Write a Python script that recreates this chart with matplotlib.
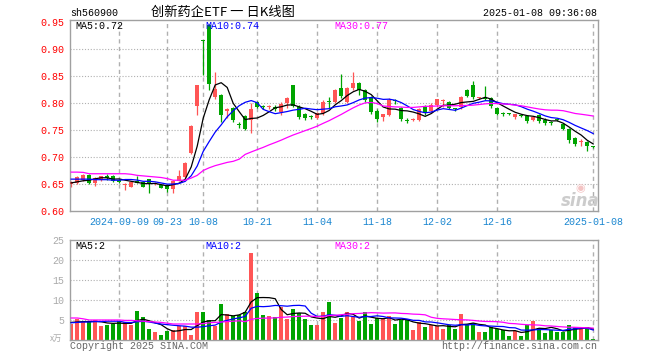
import matplotlib
matplotlib.use('Agg')
import matplotlib.pyplot as plt
import numpy as np
import pandas as pd

plt.rcParams['font.family'] = ['Liberation Mono', 'Noto Sans CJK SC', 'DejaVu Sans']

# ---------------- data ----------------
opens = [0.650, 0.652, 0.657, 0.667, 0.651, 0.657, 0.663, 0.665, 0.657, 0.648,
         0.645, 0.656, 0.654, 0.659, 0.650, 0.648, 0.648, 0.641, 0.656, 0.663,
         0.707, 0.794, 0.917, 0.945, 0.811, 0.815, 0.786, 0.791, 0.760, 0.775,
         0.768, 0.802, 0.793, 0.792, 0.793, 0.783, 0.800, 0.833, 0.793, 0.780,
         0.775, 0.772, 0.781, 0.803, 0.802, 0.828, 0.802, 0.828, 0.837, 0.824,
         0.811, 0.785, 0.774, 0.778, 0.805, 0.791, 0.768, 0.768, 0.768, 0.793,
         0.785, 0.796, 0.803, 0.802, 0.790, 0.793, 0.824, 0.833, 0.809, 0.809,
         0.809, 0.791, 0.781, 0.781, 0.774, 0.777, 0.776, 0.769, 0.778, 0.769,
         0.764, 0.769, 0.761, 0.752, 0.735, 0.727, 0.728, 0.719]
highs = [0.656, 0.664, 0.668, 0.668, 0.663, 0.665, 0.668, 0.666, 0.659, 0.651,
         0.656, 0.665, 0.655, 0.660, 0.653, 0.649, 0.650, 0.657, 0.676, 0.690,
         0.760, 0.834, 0.917, 0.946, 0.858, 0.817, 0.790, 0.793, 0.765, 0.777,
         0.800, 0.804, 0.797, 0.797, 0.797, 0.802, 0.812, 0.834, 0.796, 0.781,
         0.778, 0.784, 0.806, 0.811, 0.826, 0.854, 0.830, 0.858, 0.839, 0.826,
         0.813, 0.789, 0.780, 0.809, 0.808, 0.793, 0.772, 0.772, 0.791, 0.796,
         0.800, 0.808, 0.808, 0.803, 0.791, 0.813, 0.826, 0.841, 0.812, 0.831,
         0.811, 0.792, 0.783, 0.782, 0.780, 0.779, 0.777, 0.775, 0.780, 0.772,
         0.767, 0.771, 0.763, 0.753, 0.737, 0.733, 0.729, 0.720]
lows = [0.645, 0.650, 0.655, 0.650, 0.647, 0.655, 0.658, 0.654, 0.652, 0.638,
        0.644, 0.651, 0.644, 0.634, 0.648, 0.642, 0.635, 0.634, 0.655, 0.662,
        0.706, 0.778, 0.852, 0.824, 0.808, 0.765, 0.773, 0.765, 0.753, 0.750,
        0.745, 0.790, 0.788, 0.788, 0.785, 0.778, 0.790, 0.792, 0.770, 0.768,
        0.770, 0.770, 0.778, 0.790, 0.800, 0.810, 0.800, 0.824, 0.815, 0.802,
        0.780, 0.765, 0.767, 0.776, 0.798, 0.767, 0.763, 0.766, 0.766, 0.778,
        0.782, 0.793, 0.793, 0.789, 0.786, 0.789, 0.811, 0.808, 0.808, 0.806,
        0.791, 0.778, 0.776, 0.778, 0.770, 0.774, 0.763, 0.767, 0.763, 0.760,
        0.760, 0.767, 0.750, 0.726, 0.720, 0.721, 0.712, 0.717]
closes = [0.654, 0.663, 0.667, 0.652, 0.662, 0.664, 0.662, 0.655, 0.654, 0.650,
          0.654, 0.652, 0.645, 0.652, 0.652, 0.643, 0.641, 0.656, 0.665, 0.689,
          0.757, 0.833, 0.915, 0.836, 0.826, 0.778, 0.789, 0.768, 0.759, 0.752,
          0.789, 0.793, 0.792, 0.793, 0.789, 0.798, 0.809, 0.794, 0.774, 0.772,
          0.774, 0.781, 0.802, 0.802, 0.824, 0.813, 0.828, 0.837, 0.824, 0.806,
          0.783, 0.770, 0.780, 0.806, 0.804, 0.770, 0.767, 0.769, 0.789, 0.781,
          0.796, 0.807, 0.806, 0.791, 0.789, 0.811, 0.813, 0.811, 0.810, 0.808,
          0.794, 0.780, 0.780, 0.780, 0.780, 0.776, 0.767, 0.774, 0.767, 0.763,
          0.763, 0.768, 0.752, 0.731, 0.724, 0.728, 0.720, 0.718]
volumes = [4.1, 5.3, 4.5, 4.5, 4.9, 3.6, 3.8, 4.0, 4.8, 4.5,
           3.7, 7.3, 5.7, 2.8, 2.0, 1.3, 2.3, 2.5, 3.5, 3.5,
           1.3, 7.1, 7.1, 5.0, 3.6, 9.0, 6.5, 6.1, 6.2, 7.0,
           21.8, 11.8, 6.3, 6.0, 5.7, 8.3, 5.3, 7.8, 6.7, 5.3,
           3.8, 3.8, 7.0, 9.5, 4.3, 5.6, 7.0, 5.7, 4.8, 7.0,
           4.0, 5.6, 5.2, 6.1, 4.0, 5.1, 4.9, 2.5, 4.6, 3.3,
           3.7, 3.5, 2.8, 3.7, 2.8, 6.5, 4.0, 4.2, 2.0, 2.0,
           3.3, 2.7, 2.5, 1.0, 2.2, 1.0, 3.7, 4.8, 3.0, 1.8,
           2.5, 2.0, 2.0, 3.8, 3.2, 3.2, 3.2, 0.3]

ma5_head = [0.652, 0.654, 0.656, 0.657]
ma10_head = [0.659, 0.659, 0.659, 0.659, 0.658, 0.658, 0.658, 0.657, 0.657]
ma30_head = [0.672, 0.672, 0.6715, 0.669, 0.669, 0.669, 0.669, 0.669, 0.669, 0.669,
             0.668, 0.666, 0.665, 0.664, 0.663, 0.662, 0.660, 0.657, 0.657, 0.657,
             0.661, 0.666, 0.675, 0.680, 0.684, 0.687, 0.690, 0.692, 0.696]
vma5_head = [4.4, 4.5, 4.6, 4.6]
vma10_head = [4.3, 4.4, 4.5, 4.5, 4.6, 4.6, 4.7, 4.7, 4.7]
vma30_head = [5.5, 5.5, 5.3, 5.0, 5.0, 5.0, 5.0, 5.0, 5.0, 4.9,
              4.9, 4.8, 4.7, 4.6, 4.5, 4.4, 4.2, 4.0, 4.0, 4.0,
              4.0, 4.0, 4.1, 4.3, 4.4, 4.5, 4.6, 4.7, 4.8]

date_idx = [8, 16, 22, 31, 41, 51, 61, 71, 87]
date_labels = ['2024-09-09', '09-23', '10-08', '10-21', '11-04', '11-18',
               '12-02', '12-16', '2025-01-08']
price_ticks = [0.60, 0.65, 0.70, 0.75, 0.80, 0.85, 0.90, 0.95]
vol_ticks = [5, 10, 15, 20, 25]


def moving(values, n, head):
    s = pd.Series(values, dtype=float).rolling(n).mean().to_numpy()
    s[:n - 1] = head
    return s


# ---------------- figure ----------------
W, H = 660, 360
fig = plt.figure(figsize=(6.6, 3.6), dpi=100)
fig.patch.set_facecolor('white')

def fx(px):
    return px / W

def fy(py):
    return 1 - py / H

ax = fig.add_axes([fx(70), fy(211), fx(528), 191 / H])
vax = fig.add_axes([fx(70), fy(340), fx(528), 100 / H])

RED = '#ff5555'
GREEN = '#00a400'
GRID = '#b0b0b0'
BORDER = '#a0a0a0'

n = len(closes)
x = np.arange(n)
colors = [RED if c >= o else GREEN for o, c in zip(opens, closes)]

for a in (ax, vax):
    a.set_xlim(-0.2, n - 0.2)
    for s in a.spines.values():
        s.set_color(BORDER)
        s.set_linewidth(1.0)
    for d in date_idx:
        a.axvline(d, color=GRID, lw=1.0, ls=(0, (3, 2.5)), zorder=0)

# price panel
ax.set_ylim(0.60, 0.9537)
for t in price_ticks[1:-1]:
    ax.axhline(t, color=GRID, lw=0.8, ls=(0, (1, 1.6)), zorder=0)

for i in range(n):
    ax.vlines(x[i], lows[i], highs[i], color=colors[i], lw=0.9, zorder=2)
    body = max(abs(closes[i] - opens[i]), 0.0019)
    ax.bar(x[i], body, bottom=min(opens[i], closes[i]), width=0.75,
           color=colors[i], linewidth=0, zorder=3)

ma5 = moving(closes, 5, ma5_head)
ma10 = moving(closes, 10, ma10_head)
ma30 = moving(closes, 30, ma30_head)
ax.plot(x, ma5, color='black', lw=0.9, zorder=4)
ax.plot(x, ma10, color='#0000ff', lw=0.9, zorder=4)
ax.plot(x, ma30, color='#ff00ff', lw=0.9, zorder=4)

ax.set_yticks(price_ticks)
ax.set_yticklabels([f'{t:.2f}' for t in price_ticks])
ax.tick_params(axis='y', length=0, pad=4, labelcolor='#ff0000', labelsize=7.2)
ax.set_xticks(date_idx)
ax.set_xticklabels(date_labels)
ax.tick_params(axis='x', length=0, pad=4, labelcolor='#1a86d0', labelsize=7.2)

# volume panel
vax.set_ylim(0, 25)
for t in vol_ticks[:-1]:
    vax.axhline(t, color=GRID, lw=0.8, ls=(0, (1, 1.6)), zorder=0)
vax.bar(x, volumes, width=0.75, color=colors, linewidth=0, zorder=2)
vma5 = moving(volumes, 5, vma5_head)
vma10 = moving(volumes, 10, vma10_head)
vma30 = moving(volumes, 30, vma30_head)
vax.plot(x, vma5, color='black', lw=0.9, zorder=4)
vax.plot(x, vma10, color='#0000ff', lw=0.9, zorder=4)
vax.plot(x, vma30, color='#ff00ff', lw=0.9, zorder=4)
vax.set_yticks(vol_ticks)
vax.set_yticklabels([str(t) for t in vol_ticks])
vax.tick_params(axis='y', length=0, pad=4, labelcolor='#aaaaaa', labelsize=7.2)
vax.set_xticks([])

# texts
mono = 7.2
fig.text(fx(70), fy(13), 'sh560900', fontsize=mono, va='center', ha='left', color='black')
fig.text(fx(223), fy(12), '创新药企ETF 一 日K线图', fontsize=9.5, va='center', ha='center',
         color='black', family=['Noto Sans CJK SC', 'DejaVu Sans'])
fig.text(fx(597), fy(13), '2025-01-08 09:36:08', fontsize=mono, va='center', ha='right', color='black')

fig.text(fx(75), fy(26), 'MA5:0.72', fontsize=mono, va='center', ha='left', color='black')
fig.text(fx(205), fy(26), 'MA10:0.74', fontsize=mono, va='center', ha='left', color='#0000ff')
fig.text(fx(334), fy(26), 'MA30:0.77', fontsize=mono, va='center', ha='left', color='#ff00ff')

fig.text(fx(75), fy(246), 'MA5:2', fontsize=mono, va='center', ha='left', color='black')
fig.text(fx(205), fy(246), 'MA10:2', fontsize=mono, va='center', ha='left', color='#0000ff')
fig.text(fx(334), fy(246), 'MA30:2', fontsize=mono, va='center', ha='left', color='#ff00ff')

fig.text(fx(56), fy(338), 'x万', fontsize=6, va='center', ha='center', color='#aaaaaa',
         family=['Noto Sans CJK SC', 'DejaVu Sans'])
fig.text(fx(70), fy(346), 'Copyright 2025 SINA.COM', fontsize=mono, va='center', ha='left', color='#666666')
fig.text(fx(597), fy(346), 'http://finance.sina.com.cn', fontsize=mono, va='center', ha='right', color='#666666')

# watermark
fig.text(fx(580), fy(201), 'sina', fontsize=12, fontweight='bold', style='italic',
         va='center', ha='center', color='#cccccc', family=['DejaVu Sans'])
fig.text(fx(580), fy(188), '◉', fontsize=8, va='center', ha='center', color='#f3c4c4',
         family=['DejaVu Sans'])

fig.savefig('out.png', dpi=100, facecolor='white')
